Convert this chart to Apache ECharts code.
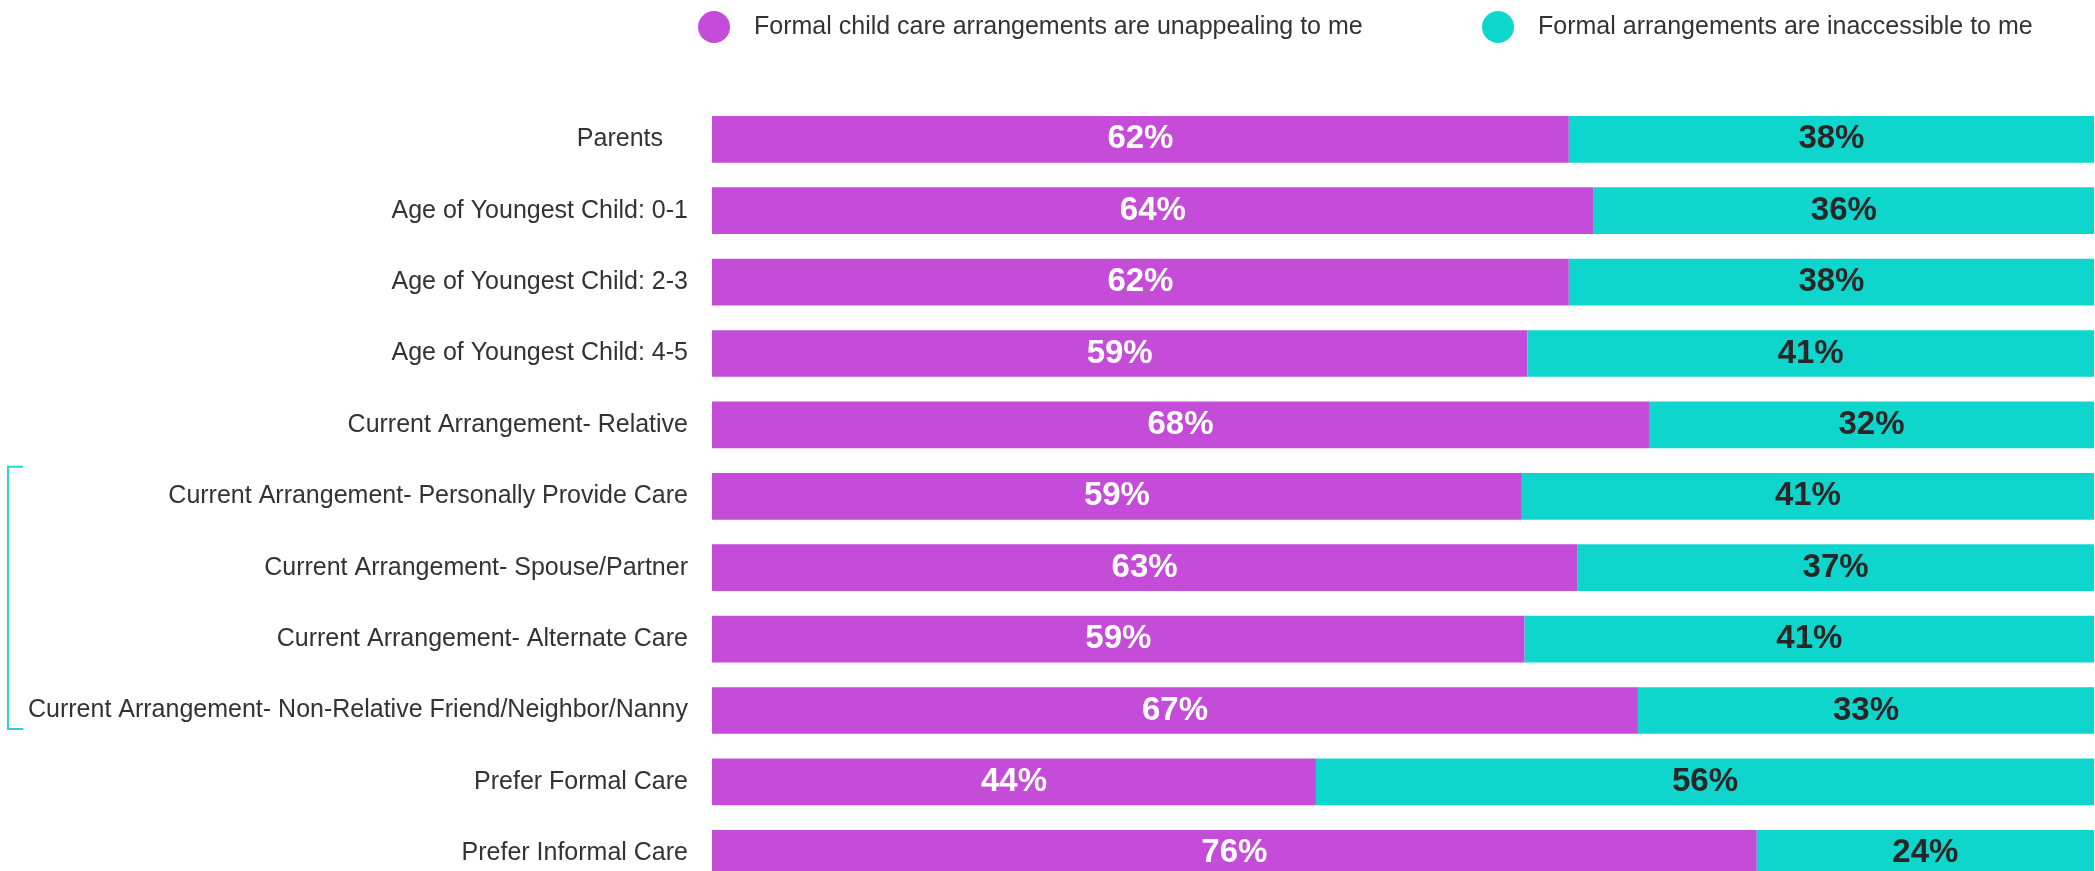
<!DOCTYPE html>
<html>
<head>
<meta charset="utf-8">
<script src="https://cdn.jsdelivr.net/npm/echarts@6/dist/echarts.min.js"></script>
<style>
html,body{margin:0;padding:0;background:#fff;overflow:hidden;}
#chart{width:2095px;height:892px;}
</style>
</head>
<body>
<div id="chart"></div>
<script>
const categories = [
  "Parents",
  "Age of Youngest Child: 0-1",
  "Age of Youngest Child: 2-3",
  "Age of Youngest Child: 4-5",
  "Current Arrangement- Relative",
  "Current Arrangement- Personally Provide Care",
  "Current Arrangement- Spouse/Partner",
  "Current Arrangement- Alternate Care",
  "Current Arrangement- Non-Relative Friend/Neighbor/Nanny",
  "Prefer Formal Care",
  "Prefer Informal Care"
];
const seriesNames = [
  "Formal child care arrangements are unappealing to me",
  "Formal arrangements are inaccessible to me"
];
const unappealing = [62, 63.8, 62, 59, 67.8, 58.6, 62.6, 58.8, 67, 43.7, 75.6];
const inaccessible = [38, 36.2, 38, 41, 32.2, 41.4, 37.4, 41.2, 33, 56.3, 24.4];

const PURPLE = '#C44CD8';
const TEAL = '#0ED6CD';
const FONT = 'Liberation Sans, Arial, sans-serif';

const chart = echarts.init(document.getElementById('chart'));

const option = {
  animation: false,
  backgroundColor: '#ffffff',
  legend: [
    {
      data: [seriesNames[0]],
      left: 698, top: 11, padding: 0,
      icon: 'circle', itemWidth: 32, itemHeight: 32,
      textStyle: {fontFamily: FONT, fontSize: 25, color: '#333333', padding: [0, 0, 0, 19]}
    },
    {
      data: [seriesNames[1]],
      left: 1482, top: 11, padding: 0,
      icon: 'circle', itemWidth: 32, itemHeight: 32,
      textStyle: {fontFamily: FONT, fontSize: 25, color: '#333333', padding: [0, 0, 0, 19]}
    }
  ],
  grid: {left: 712, right: 1, top: 103.6, height: 785.4, containLabel: false},
  xAxis: {
    type: 'value', min: 0, max: 100, show: false
  },
  yAxis: {
    type: 'category', data: categories, inverse: true,
    axisLine: {show: false}, axisTick: {show: false}, splitLine: {show: false},
    axisLabel: {
      margin: 24, fontFamily: FONT, fontSize: 25, color: '#333333',
      formatter: function (v) { return v === 'Parents' ? '{p|' + v + '}' : v; },
      rich: {p: {fontFamily: FONT, fontSize: 25, color: '#333333', padding: [0, 25, 0, 0]}}
    }
  },
  series: [
    {
      name: seriesNames[0], type: 'bar', stack: 'total', data: unappealing,
      barWidth: 46.7, itemStyle: {color: PURPLE},
      label: {show: true, position: 'inside', fontFamily: FONT, fontWeight: 'bold', fontSize: 33, color: '#ffffff',
        formatter: p => Math.round(p.value) + '%'}
    },
    {
      name: seriesNames[1], type: 'bar', stack: 'total', data: inaccessible,
      barWidth: 46.7, itemStyle: {color: TEAL},
      label: {show: true, position: 'inside', fontFamily: FONT, fontWeight: 'bold', fontSize: 33, color: '#262626',
        formatter: p => Math.round(p.value) + '%'}
    }
  ]
};
chart.setOption(option);

// decorative bracket around the "Current Arrangement" group
const yTop = chart.convertToPixel({yAxisIndex: 0}, categories[5]) - 29.5;
const yBot = chart.convertToPixel({yAxisIndex: 0}, categories[8]) + 18.5;
chart.setOption({
  graphic: [{
    type: 'polyline',
    shape: {points: [[23, yTop], [8, yTop], [8, yBot], [23, yBot]]},
    style: {stroke: '#2DD4CF', lineWidth: 2, fill: null}
  }]
});
</script>
</body>
</html>
